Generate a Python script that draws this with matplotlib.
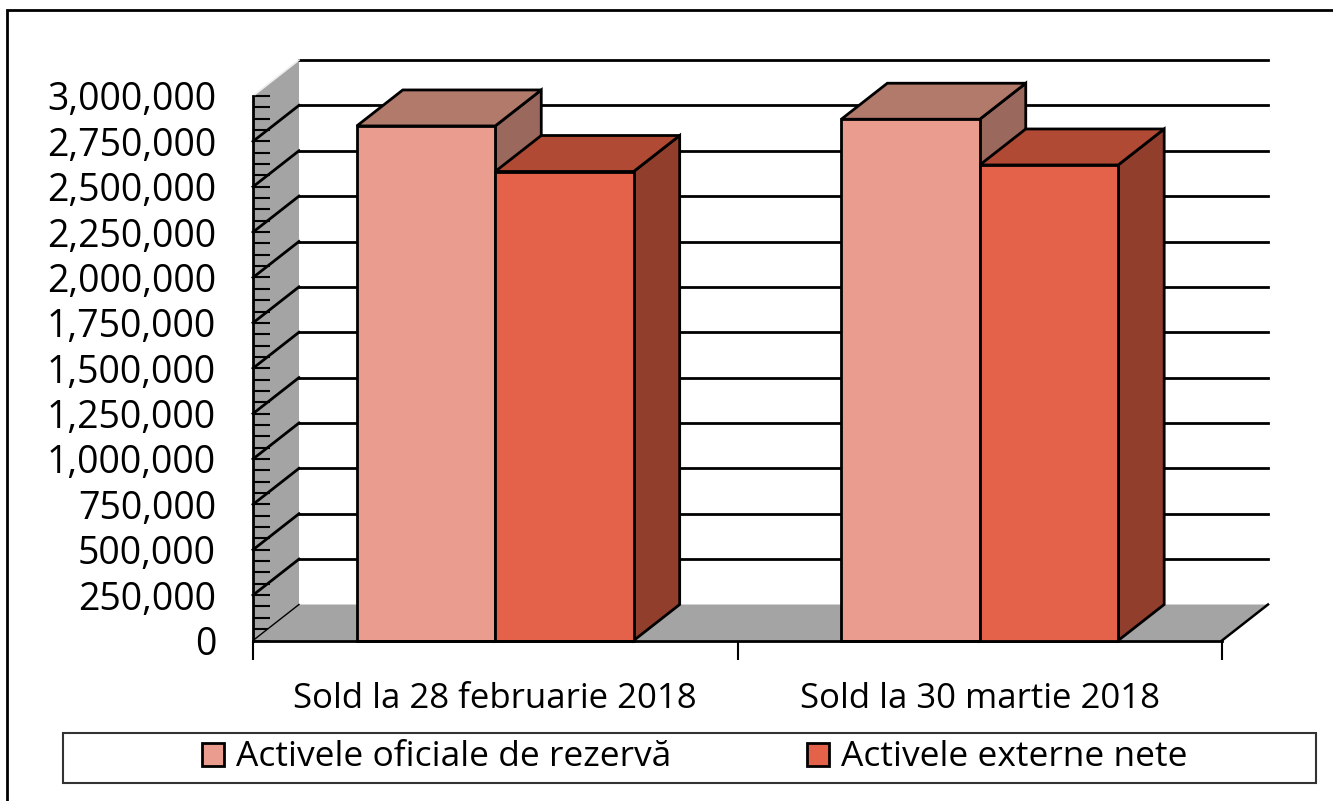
import matplotlib
matplotlib.use("Agg")
import matplotlib.pyplot as plt
from matplotlib.patches import Polygon, Rectangle, Patch
from matplotlib.lines import Line2D
from matplotlib.transforms import offset_copy
from matplotlib.ticker import FuncFormatter, MultipleLocator, FixedLocator

# ---------------- data ----------------
categories = ["Sold la 28 februarie 2018", "Sold la 30 martie 2018"]
series_names = ["Activele oficiale de rezervă", "Activele externe nete"]
oficiale = [2835000, 2872000]
externe = [2584000, 2620000]
y_ticks = list(range(0, 3000001, 250000))

# ---------------- style ----------------
front_colors = ["#EA9C8E", "#E5624A"]
top_colors = ["#B27A6B", "#B04A35"]
side_colors = ["#9A685C", "#923E2D"]
gray = "#A4A4A4"

plt.rcParams['font.family'] = ['Open Sans', 'DejaVu Sans']

W, H = 1333, 801
fig = plt.figure(figsize=(W / 100, H / 100), dpi=100)
fig.patch.set_facecolor("white")

ax = fig.add_axes([253 / W, (H - 640.5) / H, (1222 - 253) / W, (640.5 - 96) / H])
ax.set_xlim(0, 2)
ax.set_ylim(0, 3000000)
ax.set_facecolor("none")
for s in ["top", "right"]:
    ax.spines[s].set_visible(False)
ax.spines["left"].set_linewidth(2)
ax.spines["bottom"].set_linewidth(2)
ax.spines["left"].set_zorder(6)
ax.spines["bottom"].set_zorder(6)

# depth offset (3D look), in pixels
back = offset_copy(ax.transData, fig=fig, x=46, y=36, units='dots')
inv = ax.transData.inverted()


def B(x, y):
    return tuple(inv.transform(back.transform((x, y))))


# left wall
ax.add_patch(Polygon([(0, 0), (0, y_ticks[-1]), B(0, y_ticks[-1]), B(0, 0)],
                     closed=True, fc=gray, ec="none", zorder=1, clip_on=False))
# back-wall gridlines
for v in y_ticks[1:]:
    (xa, ya), (xb, yb) = B(0, v), B(2, v)
    ax.add_line(Line2D([xa, xb], [ya, yb], color="black", lw=2, zorder=2, clip_on=False))
# wall diagonals
for v in y_ticks[1:-1]:
    xb, yb = B(0, v)
    ax.add_line(Line2D([0, xb], [v, yb], color="black", lw=2, zorder=2, clip_on=False))
xb, yb = B(0, y_ticks[-1])
ax.add_line(Line2D([0, xb], [y_ticks[-1], yb], color="#eeeeee", lw=1.2, zorder=2, clip_on=False))
# floor
ax.add_patch(Polygon([(0, 0), (2, 0), B(2, 0), B(0, 0)],
                     closed=True, fc=gray, ec="none", zorder=2.5, clip_on=False))
xb, yb = B(0, 0)
ax.add_line(Line2D([0, xb], [0, yb], color="black", lw=1, zorder=2.6, clip_on=False))
xb, yb = B(2, 0)
ax.add_line(Line2D([2, xb], [0, yb], color="black", lw=1.8, zorder=2.6, clip_on=False))

# bars
series = [oficiale, externe]
w = 1 / 3.5
z = 3
for i in range(len(categories)):
    for j, vals in enumerate(series):
        v = vals[i]
        x0 = i + 0.5 - w + j * w
        x1 = x0 + w
        kw = dict(closed=True, ec="black", lw=2, joinstyle="miter", clip_on=False)
        ax.add_patch(Polygon([(x1, 0), (x1, v), B(x1, v), B(x1, 0)], fc=side_colors[j], zorder=z, **kw))
        ax.add_patch(Polygon([(x0, v), (x1, v), B(x1, v), B(x0, v)], fc=top_colors[j], zorder=z + 0.1, **kw))
        ax.add_patch(Polygon([(x0, 0), (x1, 0), (x1, v), (x0, v)], fc=front_colors[j], zorder=z + 0.2, **kw))
        z += 1

# y axis ticks
ax.yaxis.set_major_locator(FixedLocator(y_ticks))
ax.yaxis.set_minor_locator(MultipleLocator(62500))
ax.yaxis.set_major_formatter(FuncFormatter(lambda v, p: f"{v:,.0f}"))
ax.tick_params(axis="y", which="both", direction="in", length=12, width=1.5, pad=26.6,
               labelsize=27, zorder=6)
# x axis ticks
ax.set_xticks([i + 0.5 for i in range(len(categories))])
ax.set_xticklabels(categories)
ax.set_xticks(list(range(len(categories) + 1)), minor=True)
ax.tick_params(axis="x", which="major", length=0, pad=30, labelsize=25)
ax.tick_params(axis="x", which="minor", direction="out", length=14, width=1.5)

# legend
fig.add_artist(Rectangle((63 / W, (H - 783) / H), 1253 / W, 50 / H, transform=fig.transFigure,
                         fc="white", ec="#333333", lw=1.5))
handles = [Patch(fc=front_colors[j], ec="black", lw=2) for j in range(2)]
fig.legend(handles, series_names, loc="center", bbox_to_anchor=(695 / W, (H - 757.5) / H),
           ncol=2, frameon=False, fontsize=25.5, handlelength=0.62, handleheight=0.62,
           handletextpad=0.35, columnspacing=3.82, borderaxespad=0)

# outer border
fig.add_artist(Rectangle((7 / W, -0.05), 1.2, (H - 10) / H + 0.05, transform=fig.transFigure,
                         fc="none", ec="black", lw=2))

fig.savefig("out.png", dpi=100)
